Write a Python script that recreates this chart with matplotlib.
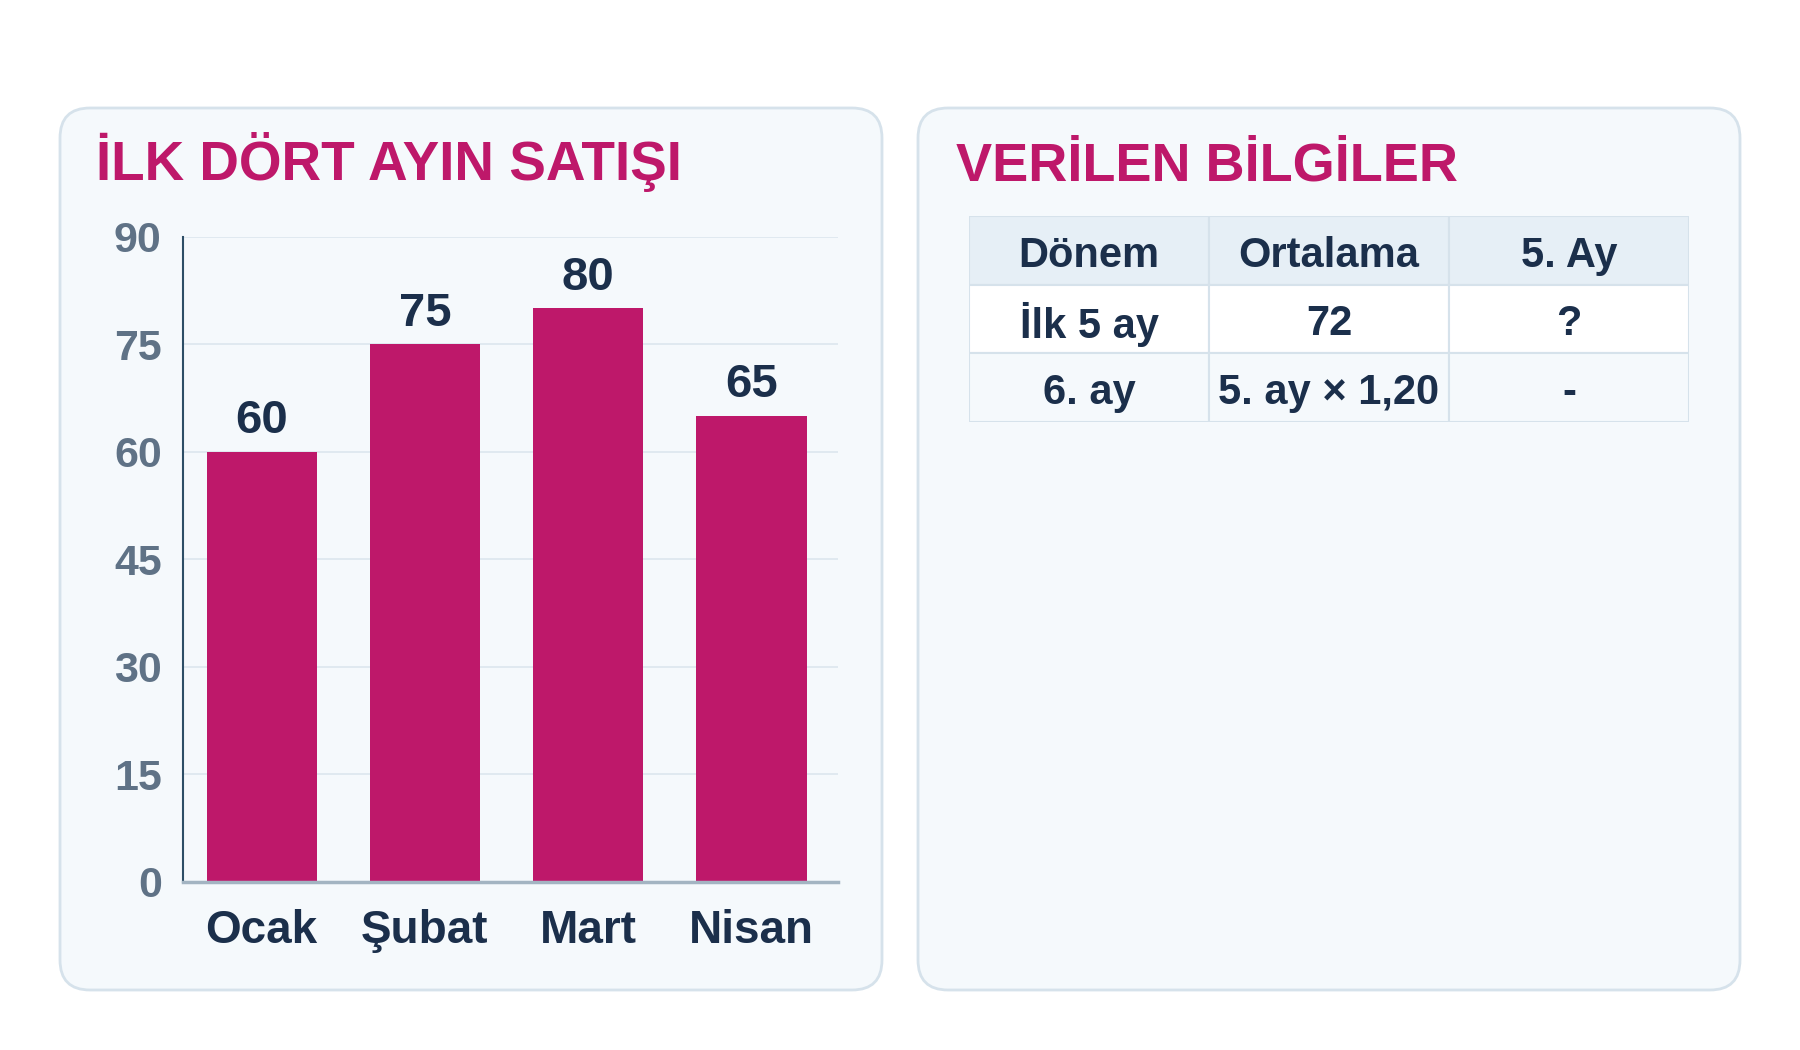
import matplotlib
matplotlib.use('Agg')
from matplotlib import pyplot
from matplotlib.patches import FancyBboxPatch, Rectangle

pyplot.rcParams['font.family'] = ['Liberation Sans', 'DejaVu Sans']
pyplot.rcParams['font.weight'] = 'bold'

# data
months = ['Ocak', 'Şubat', 'Mart', 'Nisan']
sales = [60, 75, 80, 65]
yticks = [0, 15, 30, 45, 60, 75, 90]

table_header = ['Dönem', 'Ortalama', '5. Ay']
table_rows = [
    ['İlk 5 ay', '72', '?'],
    ['6. ay', '5. ay × 1,20', '-'],
]

left_title = 'İLK DÖRT AYIN SATIŞI'
right_title = 'VERİLEN BİLGİLER'

MAGENTA = '#be186a'
NAVY = '#1b2f4b'
GRAY = '#5f7286'
PANEL = '#f5f9fc'
EDGE = '#d6e2eb'

W, H = 1800, 1050
fig = pyplot.figure(figsize=(18, 10.5), dpi=100)
fig.patch.set_facecolor('white')

# background layer in pixel coords, for the rounded panels
bg = fig.add_axes([0, 0, 1, 1])
bg.set_xlim(0, W)
bg.set_ylim(H, 0)
bg.axis('off')
for x0, x1 in [(60, 882), (918, 1740)]:
    bg.add_patch(FancyBboxPatch((x0, 108), x1 - x0, 882,
                                boxstyle='round,pad=0,rounding_size=30',
                                facecolor=PANEL, edgecolor=EDGE, linewidth=2))

fig.text(96 / W, 1 - 180 / H, left_title, color=MAGENTA, fontsize=39.5,
         fontweight='bold', va='baseline', ha='left')
fig.text(956 / W, 1 - 180 / H, right_title, color=MAGENTA, fontsize=39,
         fontweight='bold', va='baseline', ha='left')

# bar chart
ax = fig.add_axes([182.5 / W, 1 - 881.7 / H, (838 - 182.5) / W, (881.7 - 236.5) / H])
ax.set_facecolor('none')
x = list(range(len(months)))
bars = ax.bar(x, sales, width=0.675, color=MAGENTA, zorder=3)
ax.bar_label(bars, labels=[str(v) for v in sales], padding=6, fontsize=34,
             fontweight='bold', color=NAVY)
ax.set_xlim(-0.485, 3.53)
ax.set_ylim(0, 90)
ax.set_yticks(yticks)
ax.set_xticks(x)
ax.set_xticklabels(months)
ax.tick_params(axis='y', length=0, pad=15, labelsize=31, labelcolor=GRAY)
ax.tick_params(axis='x', length=0, pad=20, labelsize=33, labelcolor=NAVY)
for lab in ax.get_yticklabels() + ax.get_xticklabels():
    lab.set_fontweight('bold')
ax.grid(axis='y', color='#dce6ee', linewidth=1.2, zorder=0)
ax.spines['top'].set_visible(False)
ax.spines['right'].set_visible(False)
ax.spines['left'].set_color('#2d4e66')
ax.spines['left'].set_linewidth(1.5)
ax.spines['bottom'].set_color('#a3b4c2')
ax.spines['bottom'].set_linewidth(2.5)
ax.spines['bottom'].set_zorder(4)

# table, drawn cell by cell
tx = fig.add_axes([969 / W, 1 - 422 / H, 720 / W, 206 / H])
tx.axis('off')
all_rows = [table_header] + table_rows
nrows, ncols = len(all_rows), len(table_header)
tx.set_xlim(0, ncols)
tx.set_ylim(nrows, 0)
fills = ['#e6eff6', '#ffffff', PANEL]
for r, row in enumerate(all_rows):
    for c, txt in enumerate(row):
        tx.add_patch(Rectangle((c, r), 1, 1, facecolor=fills[r],
                               edgecolor=EDGE, linewidth=1.5))
        tx.text(c + 0.5, r + 0.58, txt, ha='center', va='center',
                color=NAVY, fontweight='bold', fontsize=30)

fig.savefig('out.png', dpi=100, facecolor='white')
